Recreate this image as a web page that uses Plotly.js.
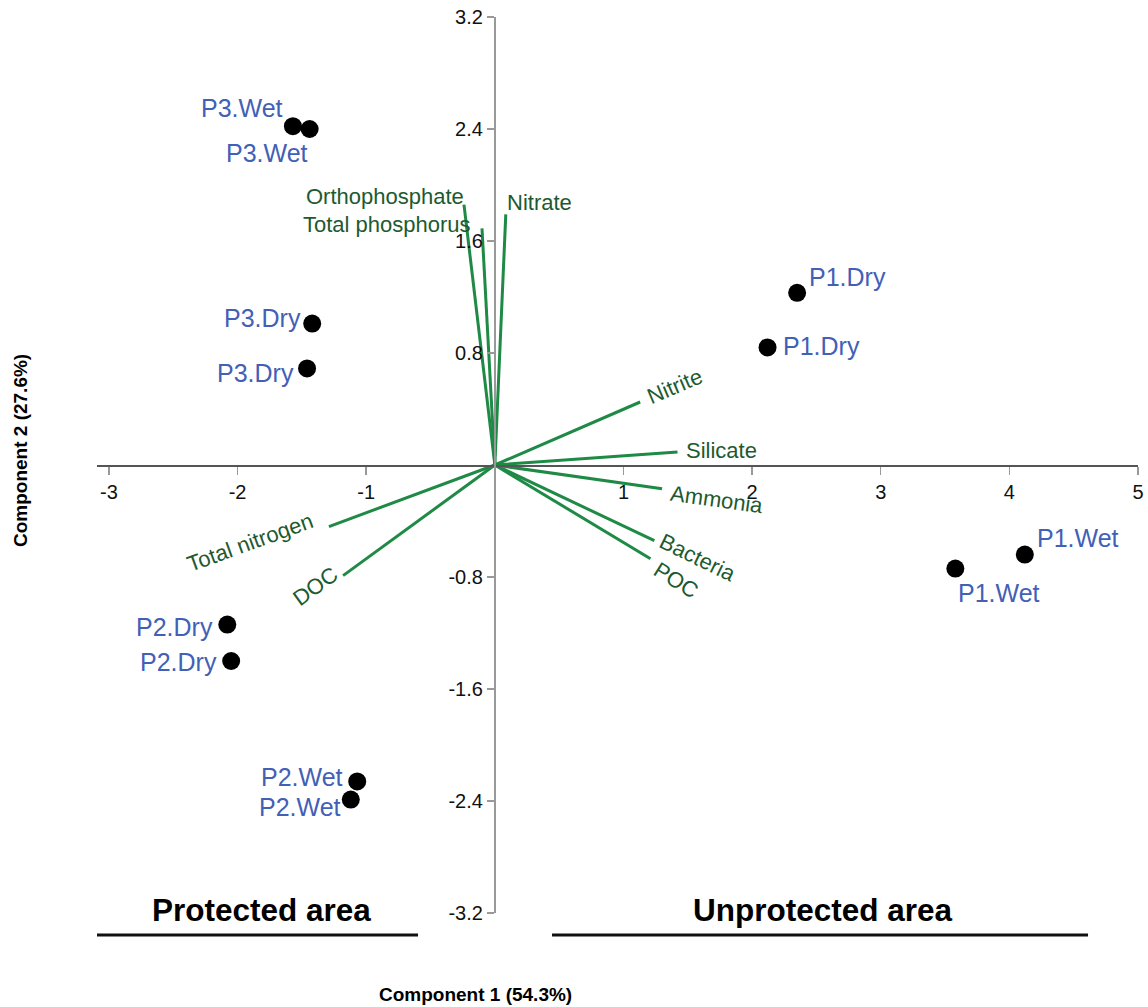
<!DOCTYPE html>
<html><head><meta charset="utf-8">
<script src="https://cdn.plot.ly/plotly-3.0.1.min.js"></script>
<style>body{margin:0;background:#fff}#chart{width:1148px;height:1007px}</style>
</head><body><div id="chart"></div>
<script>
// ---- data ----
const sampleLabels = ["P3.Wet","P3.Wet","P3.Dry","P3.Dry","P1.Dry","P1.Dry","P1.Wet","P1.Wet","P2.Dry","P2.Dry","P2.Wet","P2.Wet"];
const sampleX = [-1.57,-1.44,-1.42,-1.46,2.35,2.12,4.12,3.58,-2.08,-2.05,-1.07,-1.12];
const sampleY = [2.42,2.40,1.01,0.69,1.23,0.84,-0.64,-0.74,-1.14,-1.40,-2.26,-2.39];
const variables = ["Orthophosphate","Total phosphorus","Nitrate","Nitrite","Silicate","Ammonia","Bacteria","POC","Total nitrogen","DOC"];
const loadX = [-0.24,-0.10,0.085,1.13,1.42,1.30,1.24,1.21,-1.29,-1.18];
const loadY = [1.86,1.69,1.79,0.45,0.093,-0.17,-0.54,-0.67,-0.44,-0.79];
const xTickVals = [-3,-2,-1,1,2,3,4,5];
const xTickText = ["-3","-2","-1","1","2","3","4","5"];
const yTickVals = [-3.2,-2.4,-1.6,-0.8,0.8,1.6,2.4,3.2];
const yTickText = ["-3.2","-2.4","-1.6","-0.8","0.8","1.6","2.4","3.2"];
const xTitle = "Component 1 (54.3%)";
const yTitle = "Component 2 (27.6%)";
const groupLabels = ["Protected area","Unprotected area"];

// ---- styles ----
// sample label placement (pixels): xanchor, xshift, yshift
const sampleLabelStyle = [
  ["right", -8, 18], ["right", 0, -24], ["right", -9, 6], ["right", -11, -5],
  ["left", 10, 16], ["left", 13, 1], ["left", 10, 17], ["left", 1, -24],
  ["right", -12, -2], ["right", -12, -1], ["right", -12, 4], ["right", -8, -7]
];
// vector label placement relative to tip (pixels): xanchor, xshift, yshift, angle
const vecLabelStyle = [
  ["right", 2, 8, 0],
  ["right", -9, 4, 0],
  ["left", -1, 12, 0],
  ["center", 34, 16, -23],
  ["left", 6, 1, 0],
  ["center", 55, -11, 8],
  ["center", 43, -17, 26],
  ["center", 26, -22, 32],
  ["center", -79, -16, -20],
  ["center", -28, -11, -36]
];
const FONT = "Liberation Sans, Arial, Helvetica, sans-serif";
const XR = [-3.093, 5.0];
const YR = [-3.2, 3.2];

const vx = [], vy = [];
loadX.forEach((v, i) => { vx.push(0, v, null); vy.push(0, loadY[i], null); });

const traces = [
  {x: vx, y: vy, mode: "lines", type: "scatter", line: {color: "#1e8a45", width: 3},
   hoverinfo: "skip", showlegend: false, cliponaxis: false},
  {x: sampleX, y: sampleY, mode: "markers", type: "scatter",
   marker: {color: "#000", size: 18}, showlegend: false, cliponaxis: false}
];

const annotations = variables.map((name, i) => {
  const s = vecLabelStyle[i];
  return {x: loadX[i], y: loadY[i], xref: "x", yref: "y", text: name, showarrow: false,
    xanchor: s[0], yanchor: "middle", xshift: s[1], yshift: s[2], textangle: s[3],
    font: {family: FONT, size: 22, color: "#1d5a2f"}};
});
sampleLabels.forEach((name, i) => {
  const s = sampleLabelStyle[i];
  annotations.push({x: sampleX[i], y: sampleY[i], xref: "x", yref: "y", text: name, showarrow: false,
    xanchor: s[0], yanchor: "middle", xshift: s[1], yshift: s[2],
    font: {family: FONT, size: 25, color: "#4260b6"}});
});
annotations.push(
  {x: 0.1585, y: 0.003, xref: "paper", yref: "paper", text: "<b>" + groupLabels[0] + "</b>", showarrow: false,
   xanchor: "center", yanchor: "middle", font: {family: FONT, size: 31.5, color: "#000"}},
  {x: 0.6974, y: 0.003, xref: "paper", yref: "paper", text: "<b>" + groupLabels[1] + "</b>", showarrow: false,
   xanchor: "center", yanchor: "middle", font: {family: FONT, size: 31.5, color: "#000"}},
  {x: 0.364, y: -0.0915, xref: "paper", yref: "paper", text: "<b>" + xTitle + "</b>", showarrow: false,
   xanchor: "center", yanchor: "middle", font: {family: FONT, size: 19, color: "#000"}},
  {x: -0.074, y: 0.5167, xref: "paper", yref: "paper", text: "<b>" + yTitle + "</b>", showarrow: false,
   xanchor: "center", yanchor: "middle", textangle: -90, font: {family: FONT, size: 19, color: "#000"}}
);

const shapes = [
  {type: "line", xref: "paper", yref: "paper", x0: 0, x1: 0.3084, y0: -0.0246, y1: -0.0246, line: {color: "#111", width: 3}},
  {type: "line", xref: "paper", yref: "paper", x0: 0.4371, x1: 0.952, y0: -0.0246, y1: -0.0246, line: {color: "#111", width: 3}}
];

const layout = {
  width: 1148, height: 1007,
  margin: {l: 97, r: 10, t: 17, b: 94},
  paper_bgcolor: "#fff", plot_bgcolor: "#fff",
  font: {family: FONT},
  xaxis: {range: XR, tickvals: xTickVals, ticktext: xTickText, showgrid: false, zeroline: false,
    showline: true, linecolor: "#555", linewidth: 1.5, ticks: "outside", ticklen: 8, tickcolor: "#999", tickwidth: 1.5,
    anchor: "free", position: (0 - YR[0]) / (YR[1] - YR[0]), tickfont: {size: 20, color: "#111"}},
  yaxis: {range: YR, tickvals: yTickVals, ticktext: yTickText, showgrid: false, zeroline: false,
    showline: true, linecolor: "#999", linewidth: 2, ticks: "outside", ticklen: 7, tickcolor: "#999", tickwidth: 1.5,
    anchor: "free", position: (0 - XR[0]) / (XR[1] - XR[0]), tickfont: {size: 20, color: "#111"}},
  annotations: annotations,
  shapes: shapes,
  showlegend: false
};

Plotly.newPlot("chart", traces, layout, {staticPlot: true});
</script>
</body></html>
